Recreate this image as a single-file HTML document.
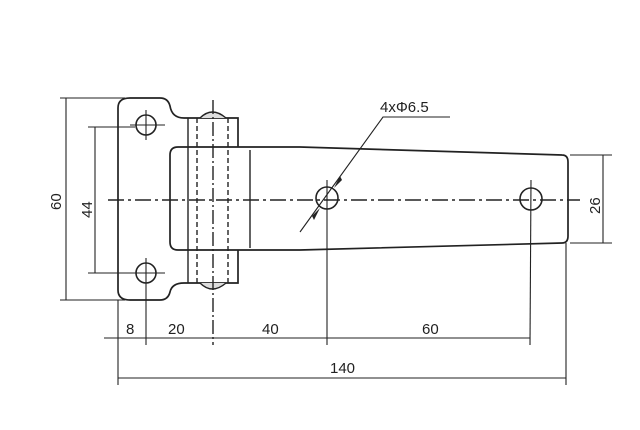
<html><head><style>body{margin:0;background:#fff}svg{display:block}</style></head><body>
<svg width="640" height="430" viewBox="0 0 640 430" xmlns="http://www.w3.org/2000/svg" font-family="Liberation Sans, sans-serif" fill="none" stroke="#222" stroke-width="1.4">
<path d="M130 98 H160 Q168 98 170 106 Q172 118 184 118 H238 V283 H184 Q172 283 170 292 Q168 300 160 300 H130 Q118 300 118 290 V108 Q118 98 130 98 Z" stroke-width="1.7"/>
<path d="M200 118 Q212 106 226 118" fill="#ddd"/>
<path d="M200 283 Q212 295 226 283" fill="#ddd"/>
<path d="M178 147 H300 L562 155 Q568 155 568 162 V236 Q568 243 562 243 L300 250 H178 Q170 250 170 242 V155 Q170 147 178 147 Z" fill="#fff" stroke-width="1.7"/>
<line x1="188" y1="118" x2="188" y2="283"/>
<line x1="250" y1="150" x2="250" y2="248"/>
<line x1="197" y1="118" x2="197" y2="283" stroke-dasharray="5,3"/>
<line x1="228" y1="118" x2="228" y2="283" stroke-dasharray="5,3"/>
<line x1="213" y1="100" x2="213" y2="345" stroke-dasharray="14,3,2,3"/>
<line x1="108" y1="200" x2="580" y2="200" stroke-dasharray="16,4,3,4"/>
<g stroke-width="1.6"><circle cx="146" cy="125" r="10"/><circle cx="146" cy="273" r="10"/><circle cx="327" cy="198" r="11"/><circle cx="531" cy="199" r="11"/></g>
<g stroke-width="1.1"><line x1="130" y1="125" x2="165" y2="125"/><line x1="146" y1="110" x2="146" y2="140"/><line x1="130" y1="273" x2="165" y2="273"/><line x1="146" y1="258" x2="146" y2="345"/>
<line x1="327" y1="180" x2="327" y2="345"/><line x1="531" y1="180" x2="530" y2="345"/>
<line x1="60" y1="98" x2="125" y2="98"/><line x1="60" y1="300" x2="125" y2="300"/><line x1="66" y1="98" x2="66" y2="300"/>
<line x1="88" y1="127" x2="135" y2="127"/><line x1="88" y1="273" x2="135" y2="273"/><line x1="95" y1="127" x2="95" y2="273"/>
<line x1="570" y1="155" x2="612" y2="155"/><line x1="570" y1="243" x2="612" y2="243"/><line x1="603" y1="155" x2="603" y2="243"/>
<line x1="118" y1="300" x2="118" y2="385"/><line x1="566" y1="243" x2="566" y2="385"/>
<line x1="104" y1="338" x2="530" y2="338"/><line x1="118" y1="378" x2="566" y2="378"/>
<polyline points="300,232 383,117 450,117"/></g>
<g fill="#222" stroke="none">
<polygon points="334,188 340,176 342,180"/>
<polygon points="320,208 314,220 312,216"/>
</g>
<g fill="#222" stroke="none" font-size="15">
<text x="380" y="112">4x&#934;6.5</text>
<text x="126" y="334">8</text><text x="168" y="334">20</text><text x="262" y="334">40</text><text x="422" y="334">60</text>
<text x="330" y="373">140</text>
<text transform="translate(61,210) rotate(-90)">60</text>
<text transform="translate(92,218) rotate(-90)">44</text>
<text transform="translate(600,214) rotate(-90)">26</text>
</g>
</svg></body></html>
